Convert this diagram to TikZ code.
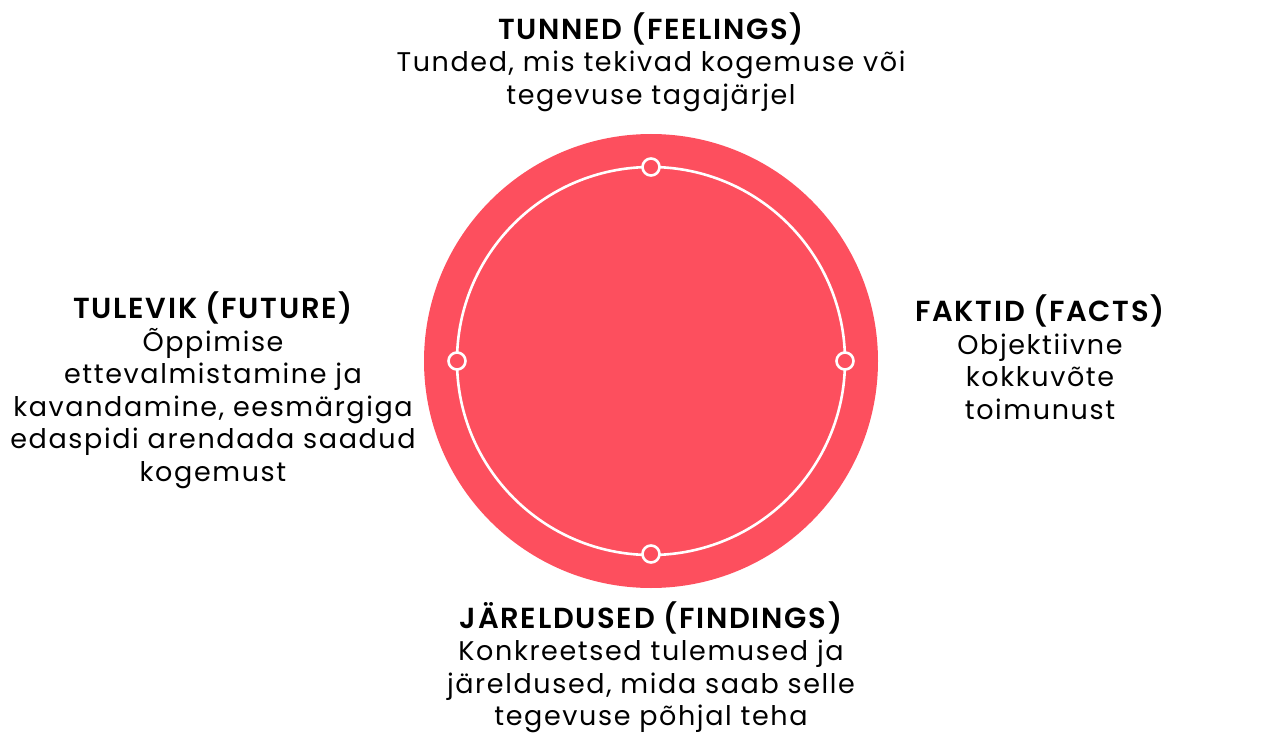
\documentclass[tikz,border=0pt]{standalone}
\usepackage{fontspec}
\setmainfont{Poppins}[LetterSpace=6]
\newfontfamily\headfontface{Poppins SemiBold}[LetterSpace=6]
\newcommand{\headtxt}[1]{{\headfontface\fontsize{29}{32.5}\selectfont #1}}
\definecolor{ringred}{RGB}{253,79,94}
\begin{document}
\begin{tikzpicture}[x=1pt,y=-1pt,
  label/.style={align=center,font=\fontsize{27}{32.5}\selectfont,inner sep=0pt},
  dot/.style={circle,draw=white,line width=2.6pt,fill=ringred,minimum size=17pt,inner sep=0pt}]
\useasboundingbox (0,0) rectangle (1283,733);
\fill[ringred] (651,361) circle (227);
\draw[white,line width=2.6pt] (651,361) circle (194);
\node[dot] (top) at (651,167) {};
\node[dot] (bottom) at (651,554) {};
\node[dot] (left) at (457,361) {};
\node[dot] (right) at (845,361) {};
\node[label] (tfeel) at (651,62) {\headtxt{TUNNED (FEELINGS)}\\Tunded, mis tekivad kogemuse või\\tegevuse tagajärjel};
\node[label] (tfut) at (213,390) {\headtxt{TULEVIK (FUTURE)}\\Õppimise\\ettevalmistamine ja\\kavandamine, eesmärgiga\\edaspidi arendada saadud\\kogemust};
\node[label] (tfact) at (1040,357) {\headtxt{FAKTID (FACTS)}\\Objektiivne\\kokkuvõte\\toimunust};
\node[label] (tfind) at (651,667) {\headtxt{JÄRELDUSED (FINDINGS)}\\Konkreetsed tulemused ja\\järeldused, mida saab selle\\tegevuse põhjal teha};
\end{tikzpicture}
\end{document}
